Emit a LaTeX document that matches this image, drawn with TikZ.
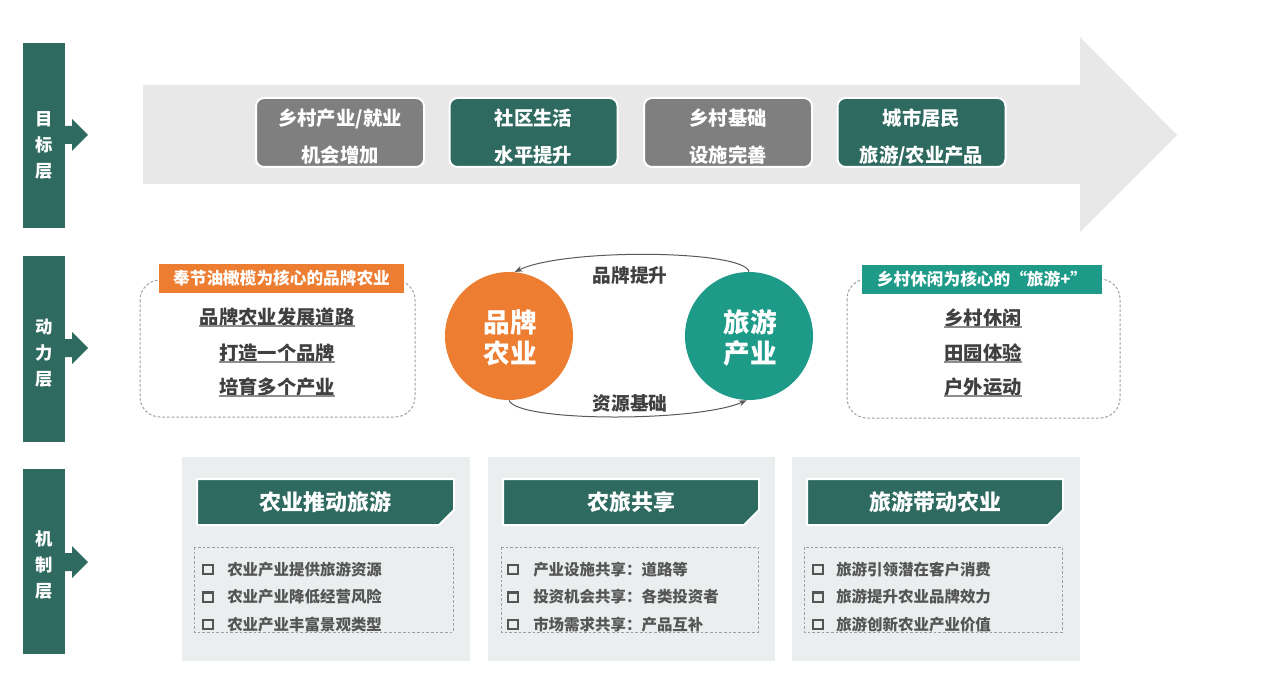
\documentclass[tikz,border=0pt]{standalone}
\usepackage{fontspec}
\setmainfont{Noto Sans CJK SC}
\usetikzlibrary{arrows.meta}
\definecolor{dteal}{HTML}{2E6A60}
\definecolor{gbox}{HTML}{7F7F7F}
\definecolor{garrow}{HTML}{E8E8E8}
\definecolor{orng}{HTML}{ED7D31}
\definecolor{lteal}{HTML}{1E9A88}
\definecolor{pbg}{HTML}{EAEEEE}
\definecolor{dtext}{HTML}{404040}
\definecolor{itext}{HTML}{555555}
\definecolor{dashc}{HTML}{98A2A2}
\definecolor{ulc}{HTML}{8C8C8C}
\begin{document}
\begin{tikzpicture}[x=0.75pt,y=-0.75pt,
  txt/.style={inner sep=0,text height=0.88em,text depth=0.12em,yshift=-1.5pt},
  barlbl/.style={text=white,font=\bfseries\fontsize{13pt}{19.5pt}\selectfont,align=center,inner sep=0},
  tbox/.style={rounded corners=6pt,draw=white,line width=1.5pt,minimum width=126pt,minimum height=51.75pt,inner sep=0},
  tline/.style={txt,text=white,font=\bfseries\fontsize{14.5pt}{14.5pt}\selectfont},
  tag/.style={text=white,minimum width=#1,minimum height=21.75pt,inner sep=0,font=\bfseries\fontsize{12.5pt}{12.5pt}\selectfont},
  uline/.style={txt,text=dtext,font=\bfseries\fontsize{14.5pt}{14.5pt}\selectfont},
  dbox/.style={draw=dashc,line width=0.75pt,dash pattern=on 2pt off 1.5pt},
  circ/.style={circle,minimum size=96pt,inner sep=0},
  cline/.style={txt,text=white,font=\bfseries\fontsize{20pt}{20pt}\selectfont},
  arclbl/.style={txt,text=dtext,font=\bfseries\fontsize{14pt}{14pt}\selectfont},
  arc/.style={draw=black!65,line width=0.75pt,-{Stealth[length=6pt,width=4.5pt]}},
  hdr/.style={txt,text=white,font=\bfseries\fontsize{16.5pt}{16.5pt}\selectfont},
  cbox/.style={draw=itext,line width=1.6pt,minimum size=7pt,inner sep=0,yshift=-1.2pt},
  item/.style={txt,text=itext,anchor=west,font=\bfseries\fontsize{11.6pt}{11.6pt}\selectfont}
]
\useasboundingbox (0,0) rectangle (1269,691);
% left bars
\foreach \ya/\yb/\cy in {43/228/135, 256/442/348, 469/654/562}{
  \fill[dteal] (23,\ya) rectangle (65,\yb);
  \fill[dteal] (64,\cy-9) -- (72,\cy-9) -- (72,\cy-16) -- (88,\cy) -- (72,\cy+16) -- (72,\cy+9) -- (64,\cy+9) -- cycle;
}
\node[barlbl] (b1) at (44,145) {目\\标\\层};
\node[barlbl] (b2) at (44,353) {动\\力\\层};
\node[barlbl] (b3) at (44,565) {机\\制\\层};
% big arrow
\fill[garrow] (143,85) -- (1080,85) -- (1080,37) -- (1177,135) -- (1080,232) -- (1080,184) -- (143,184) -- cycle;
\node[tbox,fill=gbox] (t1) at (340,132.5) {};
\node[tbox,fill=dteal] (t2) at (533.5,132.5) {};
\node[tbox,fill=gbox] (t3) at (728,132.5) {};
\node[tbox,fill=dteal] (t4) at (921.5,132.5) {};
\node[tline] (t1a) at (340,118) {乡村产业/就业};
\node[tline] (t1b) at (340,155) {机会增加};
\node[tline] (t2a) at (533.5,118) {社区生活};
\node[tline] (t2b) at (533.5,155) {水平提升};
\node[tline] (t3a) at (728,118) {乡村基础};
\node[tline] (t3b) at (728,155) {设施完善};
\node[tline] (t4a) at (921.5,118) {城市居民};
\node[tline] (t4b) at (921.5,155) {旅游/农业产品};
% middle left
\draw[dbox,rounded corners=15pt] (140,280) rectangle (415,417);
\node[tag=183.75pt,fill=orng] (ol) at (281.5,278.5) {奉节油橄榄为核心的品牌农业};
\node[uline] (l1) at (277,317) {品牌农业发展道路};
\node[uline] (l2) at (277,353) {打造一个品牌};
\node[uline] (l3) at (277,387) {培育多个产业};
\foreach \n in {l1,l2,l3}{\draw[ulc,line width=1.5pt] (\n.south west) -- (\n.south east);}
% circles
\node[circ,fill=orng] (ba) at (509,336) {};
\node[circ,fill=lteal] (ly) at (749,336) {};
\node[cline] (ba1) at (510,325) {品牌};
\node[cline] (ba2) at (510,356) {农业};
\node[cline] (ly1) at (750,325) {旅游};
\node[cline] (ly2) at (750,356) {产业};
\draw[arc] (ly.north) .. controls +(-5,-22) and +(50,-24) .. (ba.85);
\draw[arc] (ba.south) .. controls +(8,22) and +(-50,22) .. (ly.268);
\node[arclbl] (a1) at (630,275) {品牌提升};
\node[arclbl] (a2) at (630,403) {资源基础};
% middle right
\draw[dbox,rounded corners=15pt] (847,279) rectangle (1120,418);
\node[tag=180pt,fill=lteal] (tl) at (982,279.5) {乡村休闲为核心的“旅游+”};
\node[uline] (r1) at (983,318) {乡村休闲};
\node[uline] (r2) at (983,353) {田园体验};
\node[uline] (r3) at (983,387) {户外运动};
\foreach \n in {r1,r2,r3}{\draw[ulc,line width=1.5pt] (\n.south west) -- (\n.south east);}
% bottom panels
\foreach \bx/\bxx/\hx/\hxx/\dx/\dxx in {182/470/197/454/194/453, 488/775/503/759/501/758, 792/1080/807/1063/804/1062}{
  \fill[pbg] (\bx,457) rectangle (\bxx,661);
  \filldraw[fill=dteal,draw=white,line width=1.5pt] (\hx,479) -- (\hxx,479) -- (\hxx,510) -- (\hxx-15,525) -- (\hx,525) -- cycle;
  \draw[dbox] (\dx,547) rectangle (\dxx,632);
}
\node[hdr] (h1) at (325.5,503) {农业推动旅游};
\node[hdr] (h2) at (631,503) {农旅共享};
\node[hdr] (h3) at (935,503) {旅游带动农业};
% items panel 1
\node[cbox] (c11) at (208,568) {};
\node[cbox] (c12) at (208,595.5) {};
\node[cbox] (c13) at (208,623) {};
\node[item] (i11) at (227,568) {农业产业提供旅游资源};
\node[item] (i12) at (227,595.5) {农业产业降低经营风险};
\node[item] (i13) at (227,623) {农业产业丰富景观类型};
% items panel 2
\node[cbox] (c21) at (513,568) {};
\node[cbox] (c22) at (513,595.5) {};
\node[cbox] (c23) at (513,623) {};
\node[item] (i21) at (533,568) {产业设施共享：道路等};
\node[item] (i22) at (533,595.5) {投资机会共享：各类投资者};
\node[item] (i23) at (533,623) {市场需求共享：产品互补};
% items panel 3
\node[cbox] (c31) at (818,568) {};
\node[cbox] (c32) at (818,595.5) {};
\node[cbox] (c33) at (818,623) {};
\node[item] (i31) at (836,568) {旅游引领潜在客户消费};
\node[item] (i32) at (836,595.5) {旅游提升农业品牌效力};
\node[item] (i33) at (836,623) {旅游创新农业产业价值};
\end{tikzpicture}
\end{document}
